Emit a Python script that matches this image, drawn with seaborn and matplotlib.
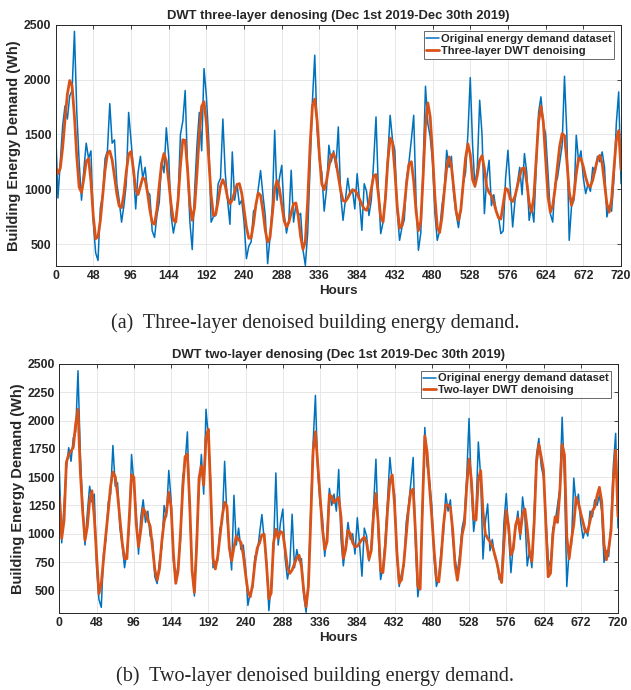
import matplotlib
matplotlib.use("Agg")
import matplotlib.pyplot as plt
import numpy as np
import pandas as pd
import seaborn as sns

# ---------------- data (3-hour resolution) ----------------
hours = list(range(0, 721, 3))

original = [
    1560, 920, 1250, 1580, 1760, 1640, 1850, 1900, 2440, 1700, 1250, 900, 1180, 1420, 1280, 1350,
    700, 420, 350, 830, 950, 1280, 1350, 1780, 1420, 1450, 1050, 900, 700, 850, 1050, 1700,
    1450, 1180, 820, 1150, 1300, 1100, 1200, 980, 950, 620, 560, 760, 880, 1250, 1150, 1560,
    1300, 760, 600, 720, 930, 1500, 1620, 1900, 1200, 700, 450, 980, 1400, 1700, 1350, 2100,
    1850, 1450, 700, 750, 760, 1050, 1100, 1640, 1150, 900, 680, 1340, 900, 1050, 860, 900,
    700, 367, 480, 520, 800, 830, 1000, 1170, 950, 760, 321, 560, 850, 1537, 900, 1100,
    1218, 780, 600, 720, 1173, 700, 860, 760, 780, 450, 306, 600, 1200, 1800, 2222, 1550,
    1264, 1150, 800, 1000, 1401, 1250, 1350, 1200, 1568, 950, 716, 900, 1100, 950, 1000, 820,
    1142, 900, 625, 1050, 980, 760, 900, 1250, 1659, 1000, 595, 700, 950, 1300, 1674, 1450,
    1350, 800, 534, 650, 720, 1100, 1250, 1450, 1674, 900, 443, 600, 1200, 1939, 1600, 1477,
    1250, 780, 534, 620, 850, 1000, 1355, 1200, 1300, 950, 777, 650, 820, 1050, 1150, 1500,
    2018, 1400, 1020, 1200, 1811, 1500, 777, 1100, 1264, 850, 950, 800, 750, 595, 620, 1100,
    1355, 1000, 656, 900, 1050, 1200, 950, 1325, 1150, 716, 850, 700, 1200, 1700, 1842, 1600,
    1500, 1150, 777, 700, 1050, 1100, 1250, 1400, 2030, 1500, 534, 850, 900, 1492, 1250, 1350,
    1100, 960, 1050, 980, 1200, 1150, 1300, 1250, 1340, 1200, 747, 850, 800, 1100, 1600, 1887,
    1051,
]

three_layer = [
    1200, 1142, 1193, 1381, 1635, 1867, 1991, 1941, 1664, 1296, 1019, 970, 1098, 1254, 1279, 1074,
    754, 549, 565, 715, 945, 1174, 1324, 1349, 1267, 1117, 956, 846, 832, 956, 1158, 1319,
    1343, 1186, 994, 951, 1028, 1106, 1087, 970, 813, 696, 681, 814, 1037, 1233, 1325, 1257,
    1076, 865, 718, 700, 901, 1220, 1451, 1445, 1184, 862, 716, 833, 1143, 1504, 1756, 1798,
    1609, 1279, 949, 760, 774, 893, 1029, 1087, 1032, 923, 868, 902, 976, 1042, 1051, 964,
    814, 654, 553, 557, 684, 858, 966, 944, 803, 626, 518, 559, 773, 1004, 1079, 1004,
    856, 713, 656, 697, 786, 866, 875, 756, 571, 452, 522, 893, 1386, 1757, 1822, 1625,
    1303, 1047, 996, 1075, 1205, 1308, 1326, 1251, 1121, 987, 897, 888, 920, 965, 994, 990,
    958, 910, 861, 821, 808, 869, 1002, 1121, 1134, 957, 741, 702, 917, 1252, 1467, 1426,
    1168, 844, 645, 667, 835, 1060, 1228, 1251, 1074, 800, 623, 704, 1116, 1587, 1787, 1659,
    1322, 929, 655, 605, 747, 986, 1196, 1294, 1210, 1005, 800, 716, 811, 1045, 1283, 1413,
    1317, 1087, 1028, 1128, 1263, 1306, 1189, 1020, 970, 940, 880, 800, 740, 728, 868, 1008,
    994, 910, 888, 937, 1027, 1123, 1189, 1193, 1061, 877, 792, 933, 1274, 1615, 1756, 1615,
    1274, 933, 792, 850, 1004, 1208, 1398, 1507, 1489, 1261, 980, 853, 944, 1142, 1283, 1278,
    1206, 1109, 1036, 1024, 1083, 1182, 1269, 1309, 1234, 1051, 867, 792, 911, 1191, 1451, 1535,
    1180,
]

two_layer = [
    1326, 960, 1116, 1630, 1700, 1730, 1765, 1970, 2100, 1550, 1200, 943, 1062, 1292, 1380, 1150,
    800, 470, 560, 780, 1000, 1200, 1420, 1545, 1504, 1349, 1134, 919, 780, 780, 1132, 1522,
    1499, 1092, 886, 1036, 1222, 1190, 1122, 1067, 882, 685, 591, 691, 929, 1107, 1190, 1365,
    1237, 820, 562, 670, 996, 1397, 1680, 1705, 1264, 675, 481, 896, 1492, 1600, 1430, 1850,
    1924, 1380, 783, 689, 796, 975, 1161, 1278, 1242, 876, 760, 880, 980, 950, 923, 818,
    642, 491, 443, 548, 741, 874, 920, 990, 995, 725, 425, 478, 919, 1040, 960, 1020,
    1008, 861, 702, 650, 680, 735, 787, 810, 710, 495, 356, 537, 1135, 1729, 1900, 1620,
    1330, 1050, 860, 929, 1346, 1330, 1275, 1300, 1320, 1147, 783, 862, 1030, 1001, 922, 884,
    890, 920, 950, 970, 921, 775, 852, 1173, 1356, 1091, 674, 657, 884, 1213, 1469, 1519,
    1261, 842, 565, 594, 748, 987, 1218, 1377, 1395, 1010, 536, 510, 1245, 1865, 1720, 1420,
    1150, 850, 600, 574, 784, 1073, 1254, 1255, 1232, 1031, 720, 590, 749, 988, 1083, 1418,
    1660, 1478, 1134, 1121, 1475, 1558, 1193, 1000, 960, 930, 890, 820, 740, 640, 569, 910,
    1205, 1067, 815, 863, 1076, 1140, 1000, 1170, 1219, 1044, 830, 757, 1102, 1636, 1790, 1680,
    1560, 1100, 620, 651, 985, 1150, 1100, 1365, 1789, 1697, 973, 780, 950, 1080, 1320, 1270,
    1180, 1100, 1015, 1018, 1115, 1200, 1236, 1335, 1410, 1285, 909, 770, 870, 1026, 1479, 1739,
    1150,
]

x_ticks = [0, 48, 96, 144, 192, 240, 288, 336, 384, 432, 480, 528, 576, 624, 672, 720]
y_ticks_a = [500, 1000, 1500, 2000, 2500]
y_ticks_b = [500, 750, 1000, 1250, 1500, 1750, 2000, 2250, 2500]

title_a = "DWT three-layer denosing (Dec 1st 2019-Dec 30th 2019)"
title_b = "DWT two-layer denosing (Dec 1st 2019-Dec 30th 2019)"
label_orig = "Original energy demand dataset"
label_a = "Three-layer DWT denoising"
label_b = "Two-layer DWT denoising"
caption_a = "(a)  Three-layer denoised building energy demand."
caption_b = "(b)  Two-layer denoised building energy demand."

# ---------------- style ----------------
sns.set_theme(style="whitegrid")
plt.rcParams['font.family'] = ['Liberation Sans', 'DejaVu Sans']
plt.rcParams['font.weight'] = 'bold'
plt.rcParams['axes.labelweight'] = 'bold'

BLUE = '#0072BD'
ORANGE = '#D95319'
DARK = '#262626'

fig = plt.figure(figsize=(6.31, 6.90), dpi=100)
fig.patch.set_facecolor('white')
ax1 = fig.add_axes([0.0881, 0.6145, 0.8961, 0.3497])
ax2 = fig.add_axes([0.0941, 0.1116, 0.8853, 0.3609])


def draw(ax, den, den_label, title, yticks):
    df = pd.DataFrame({'Hours': hours, 'orig': original, 'den': den})
    sns.lineplot(data=df, x='Hours', y='orig', ax=ax, color=BLUE, linewidth=1.1,
                 label=label_orig)
    sns.lineplot(data=df, x='Hours', y='den', ax=ax, color=ORANGE, linewidth=2.0,
                 label=den_label)
    ax.set_xlim(0, 720)
    ax.set_ylim(300, 2500)
    ax.set_xticks(x_ticks)
    ax.set_yticks(yticks)
    ax.set_xticklabels([str(t) for t in x_ticks], fontsize=8.8, fontweight='bold')
    ax.set_yticklabels([str(t) for t in yticks], fontsize=8.8, fontweight='bold')
    ax.tick_params(axis='both', direction='in', length=3, width=0.6, color=DARK,
                   pad=3, labelcolor=DARK, top=True, right=True)
    ax.grid(True, color='#e3e3e3', linewidth=0.6)
    ax.set_facecolor('white')
    for sp in ax.spines.values():
        sp.set_color(DARK)
        sp.set_linewidth(0.7)
    ax.set_xlabel('Hours', fontsize=9.6, fontweight='bold', labelpad=2, color=DARK)
    ax.set_ylabel('Building Energy Demand (Wh)', fontsize=10.5, fontweight='bold',
                  labelpad=2, color=DARK)
    ax.set_title(title, fontsize=9.4, fontweight='bold', pad=4, color=DARK)
    leg = ax.legend(loc='upper right', fontsize=8, frameon=True, fancybox=False,
                    handlelength=1.1, handletextpad=0.2, borderpad=0.25,
                    labelspacing=0.15, borderaxespad=0.6)
    leg.get_frame().set_edgecolor(DARK)
    leg.get_frame().set_linewidth(0.6)
    for t in leg.get_texts():
        t.set_fontweight('bold')


draw(ax1, three_layer, label_a, title_a, y_ticks_a)
draw(ax2, two_layer, label_b, title_b, y_ticks_b)

fig.text(0.5, 1 - 323 / 690, caption_a, ha='center', va='center',
         family=['Liberation Serif', 'DejaVu Serif'], fontsize=14.5, fontweight='normal')
fig.text(0.5, 1 - 676 / 690, caption_b, ha='center', va='center',
         family=['Liberation Serif', 'DejaVu Serif'], fontsize=14.5, fontweight='normal')

fig.savefig('out.png', dpi=100, facecolor='white')
